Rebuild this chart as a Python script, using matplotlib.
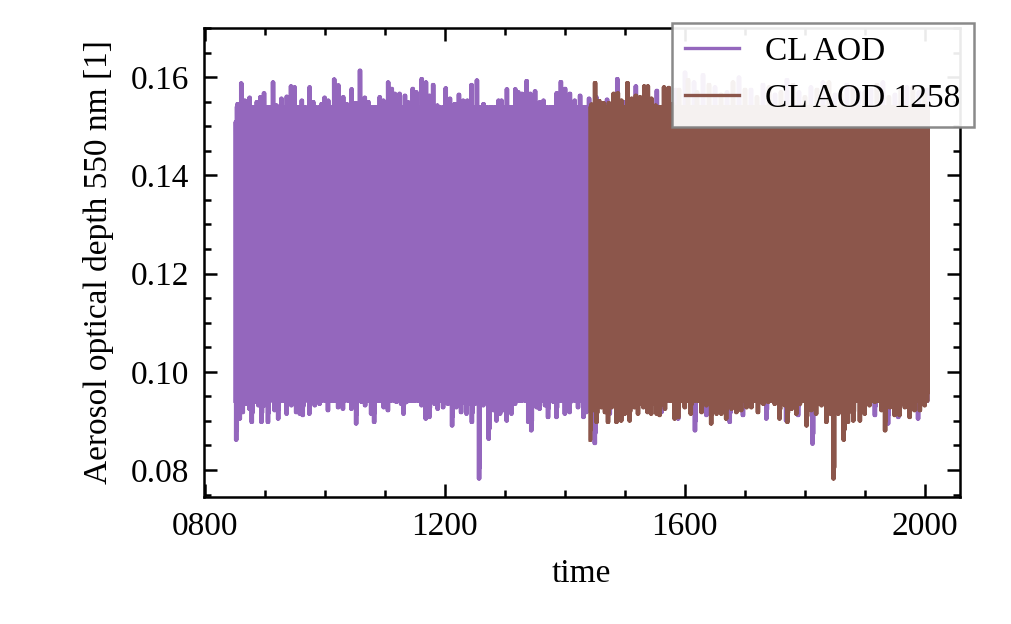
import matplotlib
matplotlib.use("Agg")
import matplotlib.pyplot as plt
import matplotlib.ticker as mticker
import numpy as np

# ---- data (year, value) ----
start_year, end_year = 850, 2005
brown_start = 1442

# seasonal shape (fraction of the yearly swing, Jan..Dec)
season = [0.00, 0.08, 0.30, 0.62, 0.88, 1.00, 0.95, 0.75, 0.48, 0.25, 0.10, 0.03]

top_base = 0.1540
bottom_base = 0.0940

purple_top_years = [850, 854, 860, 866, 874, 880, 886, 892, 898, 905, 913, 919, 927, 936, 943,
                    949, 953, 961, 969, 974, 980, 987, 994, 999, 1005, 1015, 1022, 1030, 1036,
                    1044, 1051, 1058, 1066, 1072, 1080, 1086, 1091, 1097, 1105, 1111, 1116, 1124,
                    1133, 1138, 1146, 1152, 1161, 1168, 1174, 1180, 1187, 1194, 1201, 1208, 1216,
                    1223, 1230, 1237, 1244, 1253, 1258, 1264, 1272, 1281, 1289, 1294, 1303, 1310,
                    1317, 1322, 1328, 1336, 1342, 1350, 1358, 1364, 1372, 1379, 1386, 1393, 1400,
                    1408, 1416, 1425, 1433, 1440, 1452, 1470, 1487, 1500, 1518, 1530, 1553, 1570,
                    1585, 1600, 1615, 1630, 1650, 1670, 1690, 1710, 1730, 1750, 1770, 1790, 1810,
                    1830, 1850, 1870, 1890, 1910, 1930, 1950, 1970, 1990, 2004]
purple_top_vals = [0.1509, 0.1546, 0.1588, 0.1553, 0.1559, 0.1529, 0.1550, 0.1560, 0.1568, 0.1534,
                   0.1590, 0.1543, 0.1557, 0.1561, 0.1582, 0.1580, 0.1506, 0.1553, 0.1533, 0.1580,
                   0.1550, 0.1529, 0.1546, 0.1559, 0.1553, 0.1596, 0.1584, 0.1560, 0.1546, 0.1576,
                   0.1548, 0.1614, 0.1559, 0.1550, 0.1540, 0.1540, 0.1560, 0.1553, 0.1590, 0.1577,
                   0.1567, 0.1567, 0.1563, 0.1550, 0.1577, 0.1570, 0.1597, 0.1590, 0.1563, 0.1585,
                   0.1543, 0.1536, 0.1578, 0.1557, 0.1546, 0.1565, 0.1553, 0.1553, 0.1585, 0.1594,
                   0.1533, 0.1546, 0.1519, 0.1502, 0.1553, 0.1553, 0.1576, 0.1533, 0.1576, 0.1570,
                   0.1567, 0.1593, 0.1567, 0.1572, 0.1550, 0.1553, 0.1536, 0.1540, 0.1568, 0.1591,
                   0.1577, 0.1567, 0.1553, 0.1563, 0.1526, 0.1557, 0.1560, 0.1555, 0.1597, 0.1550,
                   0.1582, 0.1555, 0.1573, 0.1560, 0.1575, 0.1610, 0.1590, 0.1605, 0.1580, 0.1570,
                   0.1600, 0.1575, 0.1585, 0.1565, 0.1595, 0.1570, 0.1580, 0.1590, 0.1565, 0.1585,
                   0.1570, 0.1575, 0.1590, 0.1565, 0.1580, 0.1570, 0.1575]

purple_bottom_years = [852, 858, 863, 869, 874, 878, 886, 889, 894, 899, 905, 911, 916, 922, 930,
                       936, 944, 952, 958, 963, 969, 974, 983, 991, 998, 1005, 1011, 1022, 1030,
                       1036, 1044, 1052, 1061, 1067, 1077, 1082, 1091, 1098, 1105, 1113, 1119,
                       1127, 1131, 1136, 1144, 1152, 1161, 1168, 1174, 1183, 1188, 1197, 1205,
                       1212, 1219, 1227, 1236, 1241, 1245, 1250, 1257, 1264, 1273, 1281, 1286,
                       1292, 1297, 1303, 1311, 1317, 1322, 1331, 1339, 1344, 1353, 1358, 1367,
                       1372, 1381, 1386, 1394, 1400, 1408, 1414, 1422, 1431, 1436, 1450, 1475,
                       1494, 1561, 1589, 1617, 1636, 1675, 1697, 1736, 1769, 1789, 1813, 1847,
                       1917, 1939, 1956, 1989]
purple_bottom_vals = [0.0861, 0.0904, 0.0917, 0.0934, 0.0924, 0.0897, 0.0938, 0.0931, 0.0897,
                      0.0931, 0.0897, 0.0944, 0.0921, 0.0904, 0.0948, 0.0914, 0.0931, 0.0917,
                      0.0914, 0.0911, 0.0944, 0.0914, 0.0931, 0.0934, 0.0958, 0.0921, 0.0941,
                      0.0927, 0.0924, 0.0948, 0.0924, 0.0894, 0.0938, 0.0931, 0.0914, 0.0897,
                      0.0941, 0.0927, 0.0921, 0.0951, 0.0938, 0.0934, 0.0914, 0.0938, 0.0941,
                      0.0951, 0.0931, 0.0904, 0.0907, 0.0934, 0.0924, 0.0927, 0.0934, 0.0890,
                      0.0927, 0.0917, 0.0914, 0.0934, 0.0897, 0.0934, 0.0782, 0.0931, 0.0863,
                      0.0921, 0.0900, 0.0914, 0.0921, 0.0900, 0.0914, 0.0934, 0.0941, 0.0955,
                      0.0897, 0.0880, 0.0927, 0.0924, 0.0931, 0.0907, 0.0938, 0.0907, 0.0941,
                      0.0914, 0.0917, 0.0955, 0.0927, 0.0907, 0.0917, 0.0854, 0.0914, 0.0907,
                      0.0917, 0.0904, 0.0880, 0.0911, 0.0897, 0.0911, 0.0904, 0.0900, 0.0911,
                      0.0853, 0.0911, 0.0911, 0.0894, 0.0907, 0.0904]

brown_top_years = [1444, 1450, 1457, 1464, 1473, 1481, 1488, 1494, 1504, 1511, 1518, 1525, 1532,
                   1538, 1544, 1551, 1558, 1565, 1573, 1579, 1590, 1605, 1620, 1640, 1660, 1680,
                   1700, 1720, 1740, 1760, 1780, 1800, 1820, 1840, 1860, 1880, 1900, 1920, 1940,
                   1960, 1980, 2000]
brown_top_vals = [0.1545, 0.1589, 0.1552, 0.1548, 0.1548, 0.1567, 0.1568, 0.1553, 0.1589, 0.1557,
                  0.1563, 0.1560, 0.1582, 0.1582, 0.1557, 0.1543, 0.1540, 0.1580, 0.1579, 0.1546,
                  0.1575, 0.1595, 0.1570, 0.1585, 0.1565, 0.1590, 0.1575, 0.1560, 0.1580, 0.1570,
                  0.1585, 0.1560, 0.1575, 0.1590, 0.1565, 0.1580, 0.1570, 0.1585, 0.1560, 0.1575,
                  0.1580, 0.1565]

brown_bottom_years = [1442, 1447, 1453, 1461, 1467, 1472, 1478, 1486, 1494, 1500, 1508, 1516,
                      1522, 1531, 1538, 1544, 1553, 1558, 1567, 1573, 1583, 1589, 1600, 1610,
                      1619, 1628, 1633, 1636, 1644, 1653, 1661, 1669, 1678, 1686, 1694, 1703,
                      1711, 1722, 1731, 1739, 1744, 1750, 1758, 1767, 1771, 1778, 1786, 1792,
                      1803, 1811, 1819, 1828, 1836, 1843, 1848, 1856, 1865, 1872, 1881, 1892,
                      1900, 1908, 1917, 1928, 1934, 1942, 1950, 1958, 1967, 1975, 1983, 1992,
                      2000, 2003]
brown_bottom_vals = [0.0861, 0.0921, 0.0897, 0.0927, 0.0917, 0.0897, 0.0927, 0.0897, 0.0900,
                     0.0914, 0.0900, 0.0927, 0.0914, 0.0927, 0.0917, 0.0914, 0.0914, 0.0911,
                     0.0924, 0.0955, 0.0904, 0.0907, 0.0927, 0.0914, 0.0944, 0.0917, 0.0934,
                     0.0931, 0.0894, 0.0914, 0.0914, 0.0904, 0.0924, 0.0917, 0.0921, 0.0927,
                     0.0927, 0.0917, 0.0934, 0.0938, 0.0955, 0.0934, 0.0904, 0.0931, 0.0897,
                     0.0924, 0.0914, 0.0934, 0.0890, 0.0921, 0.0914, 0.0931, 0.0897, 0.0914,
                     0.0782, 0.0914, 0.0861, 0.0897, 0.0900, 0.0900, 0.0914, 0.0931, 0.0938,
                     0.0921, 0.0880, 0.0927, 0.0911, 0.0911, 0.0927, 0.0907, 0.0921, 0.0921,
                     0.0931, 0.0962]


def yearly_level(years, ref_years, ref_vals, base):
    # each year takes the read value of the closest reading (within a year), else the base level
    ref_years = np.asarray(ref_years)
    ref_vals = np.asarray(ref_vals)
    out = np.full(len(years), base)
    for i, y in enumerate(years):
        d = np.abs(ref_years - y)
        j = np.argmin(d)
        if d[j] <= 1:
            out[i] = ref_vals[j]
    return out


def monthly_series(first, last, top_years, top_vals, bot_years, bot_vals):
    years = np.arange(first, last + 1)
    hi = yearly_level(years, top_years, top_vals, top_base)
    lo = yearly_level(years, bot_years, bot_vals, bottom_base)
    frac = np.asarray(season)
    t = (years[:, None] + np.arange(12)[None, :] / 12.0).ravel()
    v = (lo[:, None] + frac[None, :] * (hi - lo)[:, None]).ravel()
    return t, v


t_p, v_p = monthly_series(start_year, end_year, purple_top_years, purple_top_vals,
                          purple_bottom_years, purple_bottom_vals)
t_b, v_b = monthly_series(brown_start, end_year, brown_top_years, brown_top_vals,
                          brown_bottom_years, brown_bottom_vals)

plt.rcParams["font.family"] = ["Liberation Serif", "DejaVu Serif"]
plt.rcParams["font.size"] = 8
plt.rcParams["axes.linewidth"] = 0.6

fig = plt.figure(figsize=(1011 / 300, 624 / 300), dpi=300)
ax = fig.add_axes([0.2013, 0.2035, 0.7483, 0.7515])

ax.plot(t_p, v_p, color="#9467bd", lw=0.8, label="CL AOD")
ax.plot(t_b, v_b, color="#8c564b", lw=0.8, label="CL AOD 1258")

ax.set_xlim(797.5, 2059)
ax.set_ylim(0.0745, 0.170)
ax.xaxis.set_major_locator(mticker.FixedLocator([800, 1200, 1600, 2000]))
ax.xaxis.set_minor_locator(mticker.MultipleLocator(100))
ax.xaxis.set_major_formatter(mticker.FuncFormatter(lambda x, p: "%04d" % int(round(x))))
ax.yaxis.set_major_locator(mticker.MultipleLocator(0.02))
ax.yaxis.set_minor_locator(mticker.MultipleLocator(0.005))
ax.yaxis.set_major_formatter(mticker.FormatStrFormatter("%.2f"))
ax.tick_params(which="both", direction="in", top=True, right=True, width=0.6)
ax.tick_params(which="major", length=3.2)
ax.tick_params(which="minor", length=1.6)

ax.set_xlabel("time")
ax.set_ylabel("Aerosol optical depth 550 nm [1]")

leg = ax.legend(loc="upper right", bbox_to_anchor=(1.0185, 1.0107), borderaxespad=0,
                fancybox=False, framealpha=0.92, edgecolor="0.5", handlelength=1.6)
leg.get_frame().set_linewidth(0.6)

fig.savefig("out.png", dpi=300)
